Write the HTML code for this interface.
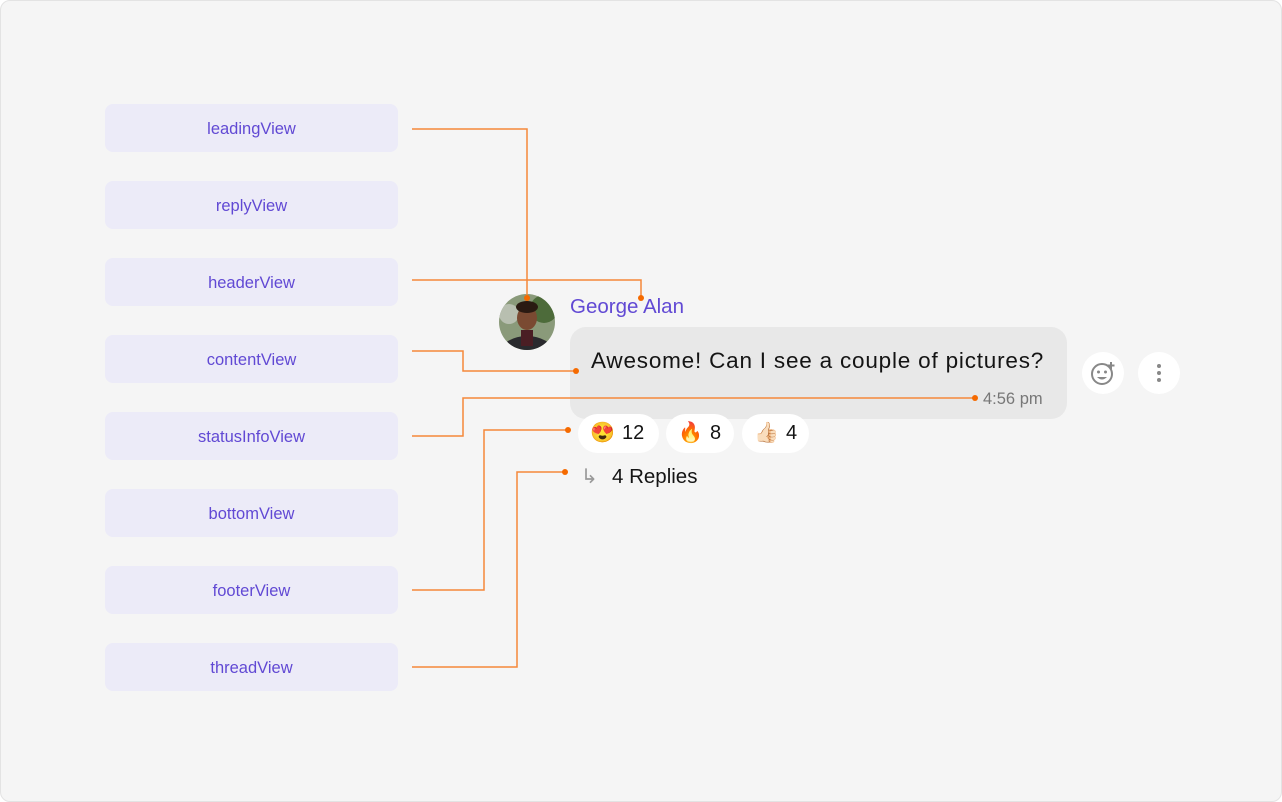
<!DOCTYPE html>
<html><head><meta charset="utf-8"><style>
body{margin:0;width:1282px;height:802px;background:#fff;font-family:"Liberation Sans",sans-serif;}
.frame{position:absolute;left:0;top:0;width:1282px;height:802px;box-sizing:border-box;background:#f5f5f5;border:1px solid #e3e3e3;border-radius:10px;overflow:hidden}
.abs{position:absolute;left:0;top:0;width:1282px;height:802px}
.box{position:absolute;left:105px;width:293px;height:48px;background:#ecebf8;border-radius:8px;color:#6149d4;font-size:16.5px;text-align:center;line-height:50px}
.pill{position:absolute;top:414px;height:39px;background:#fff;border-radius:20px;font-size:20px;line-height:39px;color:#141414}
.circ{position:absolute;width:42px;height:42px;border-radius:50%;background:#fff}
</style></head><body><div class="frame"></div><div class="abs">
<div class="box" style="top:104px">leadingView</div>
<div class="box" style="top:181px">replyView</div>
<div class="box" style="top:258px">headerView</div>
<div class="box" style="top:335px">contentView</div>
<div class="box" style="top:412px">statusInfoView</div>
<div class="box" style="top:489px">bottomView</div>
<div class="box" style="top:566px">footerView</div>
<div class="box" style="top:643px">threadView</div>

<div style="position:absolute;left:570px;top:327px;width:497px;height:92px;background:#e8e8e8;border-radius:16px"></div>
<div style="position:absolute;left:591px;top:348px;font-size:22.5px;letter-spacing:0.8px;color:#141414">Awesome! Can I see a couple of pictures?</div>
<div style="position:absolute;left:983px;top:390px;font-size:16.5px;color:#777">4:56 pm</div>
<div style="position:absolute;left:570px;top:295px;font-size:20.5px;color:#6149d4">George Alan</div>
<svg style="position:absolute;left:499px;top:294px" width="56" height="56"><defs><clipPath id="c"><circle cx="28" cy="28" r="28"/></clipPath></defs><g clip-path="url(#c)"><rect width="56" height="56" fill="#8a9a7a"/><circle cx="45" cy="15" r="14" fill="#4d6b3a"/><circle cx="10" cy="20" r="10" fill="#b8bfb0"/><ellipse cx="28" cy="58" rx="26" ry="16" fill="#2a2a2e"/><rect x="22" y="36" width="12" height="16" fill="#4a1e24"/><ellipse cx="28" cy="24" rx="10" ry="12" fill="#7a4a32"/><ellipse cx="28" cy="13" rx="11" ry="6" fill="#2a1a12"/></g></svg>
<div class="pill" style="left:578px;width:81px"><span style="position:absolute;left:12px">😍</span><span style="position:absolute;left:44px">12</span></div>
<div class="pill" style="left:666px;width:68px"><span style="position:absolute;left:12px">🔥</span><span style="position:absolute;left:44px">8</span></div>
<div class="pill" style="left:742px;width:67px"><span style="position:absolute;left:12px">👍🏻</span><span style="position:absolute;left:44px">4</span></div>
<div style="position:absolute;left:581px;top:464px;font-size:20px;color:#999">↳</div>
<div style="position:absolute;left:612px;top:465px;font-size:20.5px;color:#141414">4 Replies</div>
<div class="circ" style="left:1082px;top:352px"></div>
<div class="circ" style="left:1138px;top:352px"></div>
<svg style="position:absolute;left:1082px;top:352px" width="100" height="42"><circle cx="20" cy="22" r="10" fill="none" stroke="#888" stroke-width="2"/><circle cx="16.5" cy="20" r="1.5" fill="#888"/><circle cx="23.5" cy="20" r="1.5" fill="#888"/><path d="M15 25 Q20 30 25 25Z" fill="#888"/><path d="M29 10v7M25.5 13.5h7" stroke="#888" stroke-width="2"/><circle cx="77" cy="14" r="2" fill="#888"/><circle cx="77" cy="21" r="2" fill="#888"/><circle cx="77" cy="28" r="2" fill="#888"/></svg>

<svg style="position:absolute;left:0;top:0" width="1282" height="802"><g fill="none" stroke="#f5883a" stroke-width="1.5">
<path d="M412 129H527V298"/><path d="M412 280H641V298"/><path d="M412 351H463V371H576"/><path d="M412 436H463V398H975"/><path d="M412 590H484V430H568"/><path d="M412 667H517V472H565"/></g>
<g fill="#f56a00"><circle cx="527" cy="298" r="3"/><circle cx="641" cy="298" r="3"/><circle cx="576" cy="371" r="3"/><circle cx="975" cy="398" r="3"/><circle cx="568" cy="430" r="3"/><circle cx="565" cy="472" r="3"/></g></svg>
</div></body></html>
